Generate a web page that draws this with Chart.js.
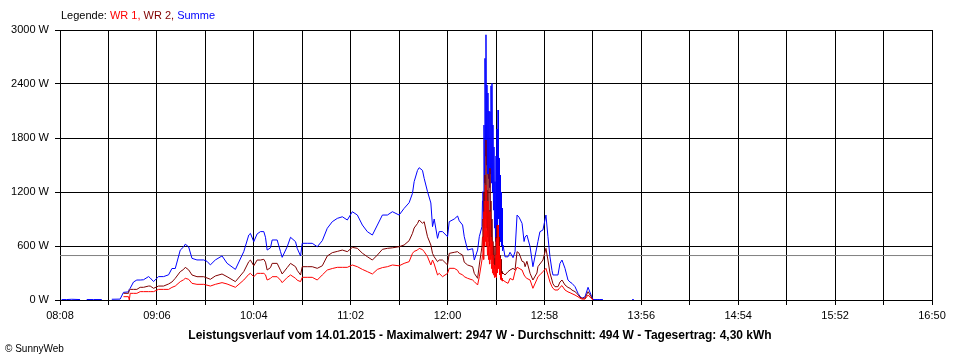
<!DOCTYPE html>
<html><head><meta charset="utf-8">
<script src="https://cdn.jsdelivr.net/npm/chart.js@4.4.0/dist/chart.umd.min.js"></script>
<style>html,body{margin:0;padding:0;background:#fff;}canvas{display:block;}</style>
</head><body>
<canvas id="c" width="960" height="360"></canvas>
<script>
// time in minutes since midnight
const times = [
 489,492,495,500,501,504,508,513,515,519,524,
 526,529,529.5,530,532,534,536,538,541,542,
 544,547,550,553,555,557,560,562,563,565,
 567,570,574,576,578,581,585,588,593,598,
 601,602,604,606,608,610,611,612,614,615,
 618,620,621,624,626,629,630,632,633,636,
 639,642,645,648,651,654,657,660,663,666,
 669,672,675,678,681,684,687,691,694,697,
 699,700,702,703,705,706,708,710,711,712,
 714,715,717,720,721,724,726,727,729,730,
 732,735,736,738,739,
 740.6,740.9,741.2,741.5,741.8,742.1,742.4,742.7,743.0,743.3,
 743.6,743.9,744.2,744.5,744.8,745.1,745.4,745.7,746.0,746.3,
 746.6,746.9,747.2,747.5,747.8,748.1,748.4,748.7,749.0,749.3,
 749.6,749.9,750.2,750.5,750.8,751.1,751.4,751.7,752.0,752.3,
 752.6,752.9,753.2,
 754.4,756.2,757.4,
 759.2,760.4,761.6,762.8,764.6,765.8,766.4,767.5,769.4,771.1,
 773.5,774.1,775.3,777.1,778.9,780.1,781.3,782.5,783.1,784.3,
 786.1,787.3,788.5,790.3,792.1,793.3,794.5,796.3,798.1,799.3,
 800.5,802.3,804.1,805.9,807.1,809.5,811.2,813,814,830.5,
 831.5
];
const summe = [
 5,5,8,5,null,5,5,5,null,8,10,
 85,90,120,130,200,222,222,225,260,245,
 205,260,260,280,350,350,555,590,620,590,
 463,445,445,430,390,445,490,408,340,537,
 722,740,648,734,760,760,697,555,580,667,
 667,537,474,592,697,648,574,489,630,630,
 630,592,659,797,870,907,925,889,981,944,
 833,759,722,833,944,944,981,944,1018,1081,
 1185,1315,1440,1470,1440,1352,1204,1078,815,900,
 685,760,760,703,870,900,933,880,833,703,
 555,570,444,555,703,
 815,1100,1204,900,1944,1300,2685,1600,2947,1500,
 2389,1400,2300,1350,2100,1250,2093,1400,2380,1300,
 2407,1200,1944,1000,1700,800,1315,650,1600,700,
 1900,600,2111,900,1578,700,1389,650,1200,600,
 1022,550,611,
 480,480,530,
 470,537,944,920,852,650,700,722,592,370,
 592,650,759,778,944,703,481,330,278,278,
 278,407,444,352,222,200,185,148,74,40,
 18,37,141,55,5,5,5,5,null,5,
 5
];
const wr2 = [
 null,null,null,null,null,null,null,null,null,null,null,
 74,74,110,118,118,118,141,141,155,155,
 130,155,155,178,200,241,315,340,363,335,
 278,259,259,245,230,267,289,259,204,315,
 426,444,380,444,444,452,420,333,360,407,
 407,330,289,360,407,370,330,278,370,370,
 370,352,380,489,526,540,555,537,585,574,
 520,481,444,500,563,574,580,592,611,659,
 741,800,850,889,852,870,703,611,518,480,
 426,444,444,389,518,530,537,520,500,420,
 389,370,296,241,389,
 592,700,900,600,1200,800,1389,900,1778,800,
 1222,700,1400,650,1000,600,1463,700,1100,500,
 900,450,650,400,600,350,463,380,700,350,
 833,400,833,450,700,350,500,300,450,280,
 315,290,300,
 278,315,333,
 352,333,537,520,430,420,370,430,296,222,
 300,370,400,444,574,444,300,222,180,148,
 148,200,222,167,140,130,110,93,60,30,
 20,20,93,37,5,null,null,null,null,null,
 null
];
const wr1 = [
 null,null,null,null,null,null,null,null,null,null,null,
 37,37,0,74,74,74,93,93,93,93,
 93,118,118,118,140,155,204,225,241,230,
 185,174,174,165,155,174,193,178,141,222,
 285,296,259,296,296,296,280,222,240,259,
 259,220,193,250,278,241,220,204,252,252,
 252,222,278,333,350,363,363,363,389,370,
 340,315,289,340,360,370,389,380,407,426,
 518,540,555,574,560,537,481,389,444,400,
 278,296,259,296,352,352,330,296,280,259,
 241,222,204,167,259,
 444,500,700,450,981,600,1100,650,1278,600,
 770,500,1100,450,600,400,981,450,700,350,
 650,300,500,280,389,250,389,260,500,250,
 685,300,833,350,600,280,463,230,300,220,
 240,210,220,
 204,185,240,
 222,315,363,352,333,278,259,240,222,130,
 230,259,280,315,352,278,200,148,130,111,
 111,140,160,111,90,81,70,55,35,20,
 10,10,55,20,0,null,null,null,null,null,
 null
];
const xTickLabels = ["08:08","09:06","10:04","11:02","12:00","12:58","13:56","14:54","15:52","16:50"];
const yTicks = [0,600,1200,1800,2400,3000];
const average = 494;
const titleText = "Leistungsverlauf vom 14.01.2015 - Maximalwert: 2947 W - Durchschnitt: 494 W - Tagesertrag: 4,30 kWh";
const legendParts = [["Legende: ","#000000"],["WR 1, ","#FF0000"],["WR 2, ","#800000"],["Summe","#0000FF"]];
const copyright = "\u00A9 SunnyWeb";

const FONT = "'Liberation Sans', Arial, sans-serif";
function toMin(s){const p=s.split(':').map(Number);return p[0]*60+p[1];}
const xMin = toMin(xTickLabels[0]);
const xMax = toMin(xTickLabels[xTickLabels.length-1]);
const gridStep = (toMin(xTickLabels[1]) - xMin) / 2;
function pts(arr){return times.map((t,i)=>({x:t,y:arr[i]}));}

const textPlugin = {
  id:'texts',
  afterDraw(chart){
    const ctx = chart.ctx;
    ctx.save();
    ctx.textBaseline = 'middle';
    ctx.font = "11px " + FONT;
    let x = 61;
    for (const [t,c] of legendParts){ ctx.fillStyle=c; ctx.fillText(t,x,16); x += ctx.measureText(t).width; }
    ctx.fillStyle = '#000';
    ctx.font = "bold 12px " + FONT;
    ctx.textAlign = 'center';
    ctx.fillText(titleText, 480, 336);
    ctx.textAlign = 'left';
    ctx.font = "10px " + FONT;
    ctx.fillText(copyright, 5, 349);
    ctx.restore();
  }
};

new Chart(document.getElementById('c'), {
  type:'line',
  data:{datasets:[
    {label:'WR 1', data:pts(wr1), borderColor:'#FF0000', order:0},
    {label:'WR 2', data:pts(wr2), borderColor:'#800000', order:1},
    {label:'Summe', data:pts(summe), borderColor:'#0000FF', order:2},
    {label:'Durchschnitt', data:[{x:xMin,y:average},{x:xMax,y:average}], borderColor:'#808080', order:3}
  ]},
  options:{
    responsive:false, animation:false, devicePixelRatio:1,
    layout:{padding:{left:0,right:28,top:30,bottom:34}},
    plugins:{legend:{display:false},tooltip:{enabled:false},title:{display:false}},
    elements:{point:{radius:0},line:{borderWidth:1,tension:0,fill:false}},
    spanGaps:false,
    scales:{
      x:{type:'linear',min:xMin,max:xMax,
        afterBuildTicks:(s)=>{const t=[];for(let v=xMin;v<=xMax+0.01;v+=gridStep)t.push({value:v});s.ticks=t;},
        afterFit:(s)=>{s.height=26;},
        grid:{color:'#000',lineWidth:1,tickLength:5,drawTicks:true},
        border:{color:'#000',width:1},
        ticks:{autoSkip:false,maxRotation:0,minRotation:0,color:'#000',font:{family:FONT,size:11},padding:4,
          callback:(v)=>{const i=Math.round((v-xMin)/gridStep);return i%2===0?xTickLabels[i/2]:'';}}
      },
      y:{min:0,max:3000,
        afterBuildTicks:(s)=>{s.ticks=yTicks.map(v=>({value:v}));},
        afterFit:(s)=>{s.width=60;},
        grid:{color:'#000',lineWidth:1,tickLength:5,drawTicks:true},
        border:{color:'#000',width:1},
        ticks:{color:'#000',font:{family:FONT,size:11},padding:6,callback:(v)=>v+' W'}
      }
    }
  },
  plugins:[textPlugin]
});
</script>
</body></html>
